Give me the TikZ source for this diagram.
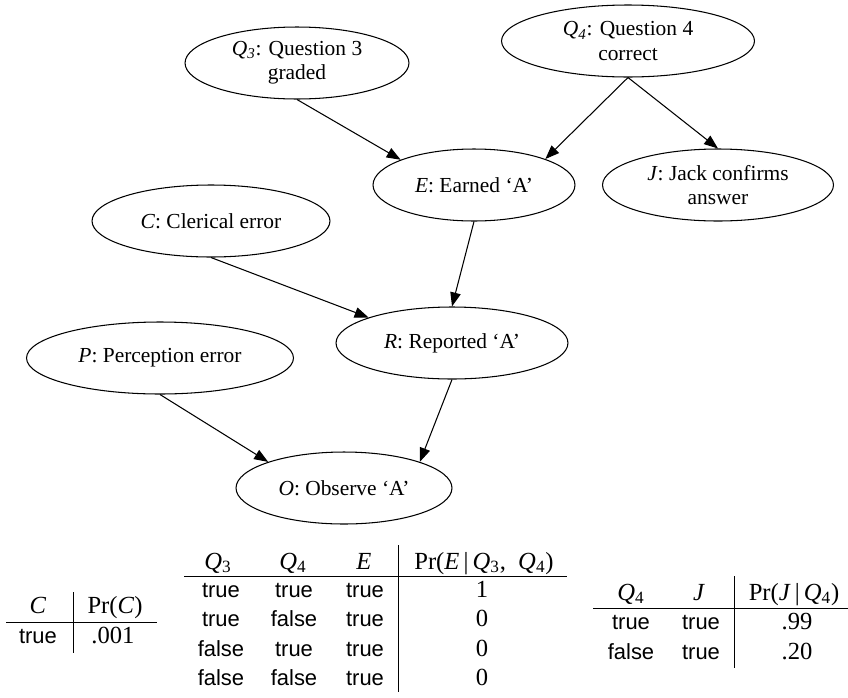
\documentclass[tikz,border=0pt]{standalone}
\usepackage{fontspec}
\setmainfont{Liberation Serif}
\setsansfont{Liberation Sans}
\usetikzlibrary{positioning,shapes,arrows.meta}

\begin{document}
\begin{tikzpicture}[x=0.02cm,y=-0.02cm,
		var/.style={draw,ellipse,line width=0.6pt,inner sep=0pt,minimum height=1.44cm,align=center,font=\fontsize{12.2}{13.7}\selectfont},
		dep/.style={-{Triangle[length=0.28cm,width=0.21cm]},line width=0.6pt},
		val/.style={anchor=base,inner sep=0pt,font=\fontsize{12.5}{14}\sffamily},
		num/.style={anchor=base,inner sep=0pt,font=\fontsize{14}{16}\selectfont}]
		\useasboundingbox (0,0) rectangle (848,697);
		% the network
		\node[var,minimum width=4.48cm] (Q3) at (297,63) {\textit{Q\textsubscript{3}}: Question 3\\graded};
		\node[var,minimum width=5.06cm] (Q4) at (628,41) {\textit{Q\textsubscript{4}}: Question 4\\correct};
		\node[var,minimum width=4.04cm] (E) at (474,185) {\textit{E}: Earned `A'};
		\node[var,minimum width=4.62cm] (J) at (718,185) {\textit{J}: Jack confirms\\answer};
		\node[var,minimum width=4.76cm] (C) at (211,221) {\textit{C}: Clerical error};
		\node[var,minimum width=4.64cm] (R) at (452,343) {\textit{R}: Reported `A'};
		\node[var,minimum width=5.34cm] (P) at (160,358) {\textit{P}: Perception error};
		\node[var,minimum width=4.32cm] (O) at (344,488) {\textit{O}: Observe `A'};
		\draw[dep] (Q3.south) -- (E.161);
		\draw[dep] (Q4.south) -- (E.20);
		\draw[dep] (Q4.south) -- (J.north);
		\draw[dep] (E.south) -- (R.north);
		\draw[dep] (C.south) -- (R.163);
		\draw[dep] (P.south) -- (O.161);
		\draw[dep] (R.south) -- (O.19);
		% table for C
		\draw (6,622) -- (157,622);
		\draw (73,592) -- (73,653);
		\node[num] (cH1) at (38,613) {\textit{C}};
		\node[num] (cH2) at (115,613) {Pr(\textit{C})};
		\node[val] (cC) at (38,643) {true};
		\node[num] (cP) at (113,643) {.001};
		% table for E
		\draw (184,576) -- (567,576);
		\draw (398,545) -- (398,692);
		\node[num] (eH1) at (218,569) {\textit{Q}\textsubscript{3}};
		\node[num] (eH2) at (293,569) {\textit{Q}\textsubscript{4}};
		\node[num] (eH3) at (364,569) {\textit{E}};
		\node[num] (eH4) at (484,569) {Pr(\textit{E}\,|\,\textit{Q}\textsubscript{3},\enspace\textit{Q}\textsubscript{4})};
		\foreach \a/\b/\p [count=\i] in {true/true/1,true/false/0,false/true/0,false/false/0}{
			\node[val] (eQ3\i) at (221,{567.5+29.5*\i}) {\a};
			\node[val] (eQ4\i) at (294,{567.5+29.5*\i}) {\b};
			\node[val] (eE\i) at (365,{567.5+29.5*\i}) {true};
			\node[num] (eP\i) at (482,{567.5+29.5*\i}) {\p};
		}
		% table for J
		\draw (593,608) -- (848,608);
		\draw (734,576) -- (734,668);
		\node[num] (jH1) at (631,600) {\textit{Q}\textsubscript{4}};
		\node[num] (jH2) at (699,600) {\textit{J}};
		\node[num] (jH3) at (794,600) {Pr(\textit{J}\,|\,\textit{Q}\textsubscript{4})};
		\foreach \a/\p [count=\i] in {true/.99,false/.20}{
			\node[val] (jQ4\i) at (631,{600+29.5*\i}) {\a};
			\node[val] (jJ\i) at (701,{600+29.5*\i}) {true};
			\node[num] (jP\i) at (797,{600+29.5*\i}) {\p};
		}
\end{tikzpicture}
\end{document}
